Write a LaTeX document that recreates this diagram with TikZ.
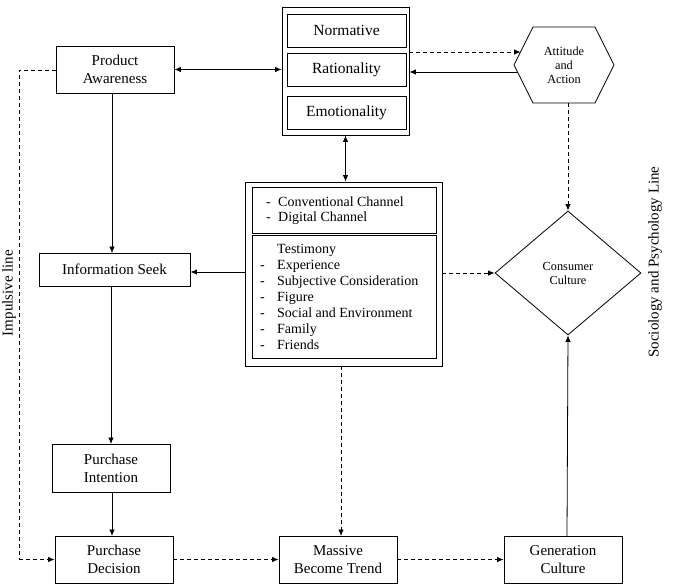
\documentclass[tikz,border=0pt]{standalone}
\usepackage{fontspec}
\setmainfont{Liberation Serif}
\usetikzlibrary{shapes.geometric,arrows.meta}
\newcommand\bxfont{\fontsize{15}{18}\selectfont}
\newcommand\tgfont{\fontsize{15.5}{18}\selectfont}
\newcommand\lsfont{\fontsize{14}{16}\selectfont}
\newcommand\chfont{\fontsize{14}{15}\selectfont}
\newcommand\smfont{\fontsize{12.3}{14}\selectfont}
\newcommand\lbfont{\fontsize{15}{17}\selectfont}
\begin{document}
\begin{tikzpicture}[x=1pt,y=-1pt,
  bx/.style={draw, line width=0.9pt, inner sep=0pt, align=center, font=\bxfont},
  grp/.style={draw, line width=0.9pt, inner sep=0pt},
  conn/.style={line width=0.8pt, -{Latex[length=6.5pt,width=5.5pt]}},
  conn2/.style={line width=0.8pt, {Latex[length=6.5pt,width=5.5pt]}-{Latex[length=6.5pt,width=5.5pt]}},
  dconn/.style={conn, dash pattern=on 4pt off 3pt},
  dline/.style={line width=0.8pt, dash pattern=on 4pt off 3pt}]
\useasboundingbox (0,0) rectangle (681,584);

% left column
\node[bx, minimum width=118pt, minimum height=47pt] (pa) at (115,69.5) {Product\\Awareness};
\node[bx, minimum width=151pt, minimum height=33pt] (is) at (114.5,269.5) {Information Seek};
\node[bx, minimum width=118pt, minimum height=48pt] (pi) at (111,468) {Purchase\\Intention};
\node[bx, minimum width=118pt, minimum height=47pt] (pd) at (114,559.5) {Purchase\\Decision};
\node[bx, minimum width=118pt, minimum height=47pt] (mb) at (338,559.5) {Massive\\Become Trend};
\node[bx, minimum width=118pt, minimum height=47pt] (gc) at (563,559.5) {Generation\\Culture};

% top group
\node[grp, minimum width=127pt, minimum height=128pt] (tg) at (345.5,71) {};
\node[bx, font=\tgfont, minimum width=119pt, minimum height=33pt] (nor) at (346.5,30.5) {Normative};
\node[bx, font=\tgfont, minimum width=119pt, minimum height=33pt] (rat) at (346.5,69.5) {Rationality};
\node[bx, font=\tgfont, minimum width=119pt, minimum height=33pt] (emo) at (346.5,112.5) {Emotionality};

% middle group
\node[grp, minimum width=197pt, minimum height=184pt] (mg) at (343.5,274) {};
\node[grp, minimum width=184pt, minimum height=46pt] (mg1) at (344,210) {};
\node[grp, minimum width=184pt, minimum height=123pt] (mg2) at (344,296.5) {};
\node[anchor=west, font=\chfont, align=left, inner sep=0pt] (chn) at (266,210.5)
  {\makebox[12pt][l]{-}Conventional Channel\\\makebox[12pt][l]{-}Digital Channel};
\node[anchor=west, font=\lsfont, align=left, inner sep=0pt] (lst) at (260,296.5)
  {\makebox[17pt][l]{}Testimony\\
   \makebox[17pt][l]{-}Experience\\
   \makebox[17pt][l]{-}Subjective Consideration\\
   \makebox[17pt][l]{-}Figure\\
   \makebox[17pt][l]{-}Social and Environment\\
   \makebox[17pt][l]{-}Family\\
   \makebox[17pt][l]{-}Friends};

% hexagon
\node[inner sep=0pt, align=center, font=\smfont] (aa) at (564,65) {Attitude\\and\\Action};
\draw[line width=0.8pt] (514,65) -- (533,27) -- (595,27) -- (614,65) -- (595,103) -- (533,103) -- cycle;
\coordinate (hLu) at (520.5,52);
\coordinate (hLd) at (517.5,72);
\coordinate (hB) at (568,103);

% diamond
\node[diamond, draw, line width=0.8pt, minimum width=146pt, minimum height=124pt, inner sep=0pt,
      align=center, font=\smfont] (cc) at (568,273) {Consumer\\Culture};

% connectors
\draw[conn2] (pa.east) -- (pa.east -| tg.west);
\draw[dconn] (tg.east |- hLu) -- (hLu);
\draw[conn] (hLd) -- (hLd -| tg.east);
\draw[dconn] (hB) -- (cc.north);
\draw[conn2] (tg.south) -- (tg.south |- mg.north);
\draw[conn] (mg.west |- 0,272) -- (is.east |- 0,272);
\draw[dconn] (mg.east |- cc.west) -- (cc.west);
\draw[conn] (112,93) -- (112,253);
\draw[conn] (111,286) -- (111,444);
\draw[conn] (112,492) -- (112,536);
\draw[dconn] (pd.east) -- (mb.west);
\draw[dconn] (mb.east) -- (gc.west);
\draw[dconn] (341,366) -- (341,536);
\draw[conn] (567,536) -- (cc.south);
\coordinate (imp1) at (19,70);
\coordinate (imp2) at (19,559.5);
\draw[dline] (pa.west |- imp1) -- (imp1) -- (imp2);
\draw[dconn] (imp2) -- (pd.west);

% side labels
\node[rotate=90, font=\lbfont, inner sep=0pt] (il) at (9,293) {Impulsive line};
\node[rotate=90, font=\lbfont, inner sep=0pt] (sl) at (655,262) {Sociology and Psychology Line};
\end{tikzpicture}
\end{document}
